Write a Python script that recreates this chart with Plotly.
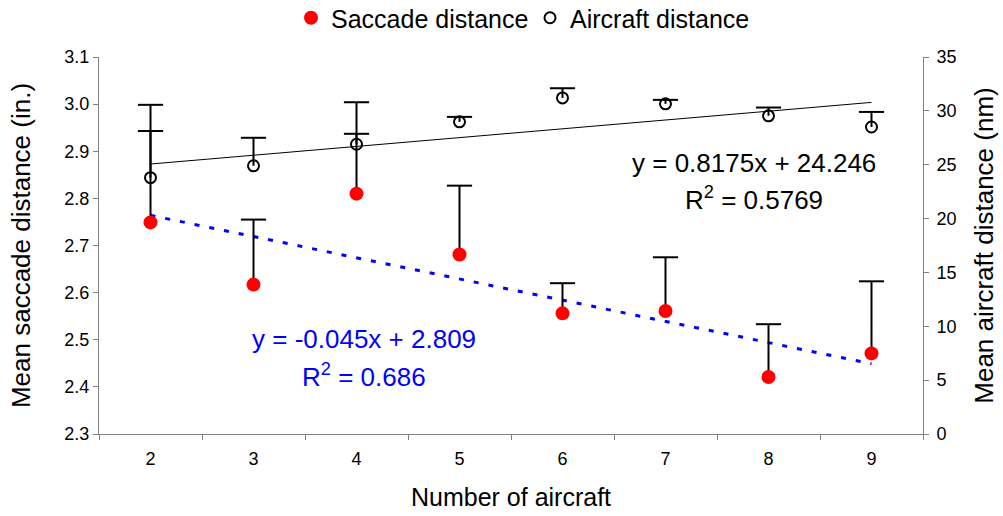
import plotly.graph_objects as go

# ---- data ----
categories = ["2", "3", "4", "5", "6", "7", "8", "9"]
saccade_mean = [2.749, 2.617, 2.810, 2.681, 2.556, 2.561, 2.421, 2.471]
saccade_err_plus = [0.194, 0.138, 0.127, 0.146, 0.064, 0.114, 0.112, 0.153]
aircraft_mean = [23.8, 24.9, 26.9, 28.98, 31.2, 30.65, 29.54, 28.5]
aircraft_err_plus = [6.76, 2.6, 3.9, 0.46, 0.9, 0.37, 0.77, 1.4]

# trendline coefficients as displayed on the chart (x = 1..8)
saccade_trend = {"slope": -0.045, "intercept": 2.809}
aircraft_trend = {"slope": 0.8175, "intercept": 24.246}

left_ticks = [2.3, 2.4, 2.5, 2.6, 2.7, 2.8, 2.9, 3.0, 3.1]
right_ticks = [0, 5, 10, 15, 20, 25, 30, 35]

FONT = "Liberation Sans, Arial, sans-serif"

idx = list(range(1, len(categories) + 1))
sacc_fit = [saccade_trend["slope"] * i + saccade_trend["intercept"] for i in idx]
air_fit = [aircraft_trend["slope"] * i + aircraft_trend["intercept"] for i in idx]


def plus_error_traces(means, plus, yaxis):
    """Upward-only error bars: vertical stems plus a cap at the top."""
    xs, ys = [], []
    tops = [m + p for m, p in zip(means, plus)]
    for c, m, t in zip(categories, means, tops):
        xs += [c, c, None]
        ys += [m, t, None]
    stems = go.Scatter(x=xs, y=ys, mode="lines", yaxis=yaxis,
                       line=dict(color="black", width=2),
                       showlegend=False, hoverinfo="skip", connectgaps=False)
    caps = go.Scatter(x=categories, y=tops, mode="markers", yaxis=yaxis,
                      marker=dict(symbol="line-ew", size=18, color="black",
                                  line=dict(width=2, color="black")),
                      showlegend=False, hoverinfo="skip")
    return [stems, caps]


fig = go.Figure()

# trendlines
fig.add_trace(go.Scatter(
    x=categories, y=air_fit, mode="lines", yaxis="y2",
    line=dict(color="black", width=1), showlegend=False, hoverinfo="skip"))
fig.add_trace(go.Scatter(
    x=categories, y=sacc_fit, mode="lines", yaxis="y",
    line=dict(color="#0000FF", width=3, dash="5px,10px"),
    showlegend=False, hoverinfo="skip"))

# error bars (plus direction only)
for tr in plus_error_traces(saccade_mean, saccade_err_plus, "y"):
    fig.add_trace(tr)
for tr in plus_error_traces(aircraft_mean, aircraft_err_plus, "y2"):
    fig.add_trace(tr)

# saccade distance
fig.add_trace(go.Scatter(
    x=categories, y=saccade_mean, mode="markers", name="Saccade distance",
    yaxis="y",
    marker=dict(color="#FF0000", size=14, line=dict(width=0))))

# aircraft distance
fig.add_trace(go.Scatter(
    x=categories, y=aircraft_mean, mode="markers", name="Aircraft distance",
    yaxis="y2",
    marker=dict(symbol="circle-open", color="black", size=11,
                line=dict(width=2, color="black"))))

axis_line = "#808080"
fig.update_layout(
    width=1003, height=516,
    margin=dict(l=99, r=80, t=57, b=82, autoexpand=False),
    paper_bgcolor="white", plot_bgcolor="white",
    font=dict(family=FONT, color="black", size=18),
    showlegend=True,
    legend=dict(orientation="h", x=(530 - 99) / 824, xanchor="center",
                y=(434 + 5) / 377, yref="paper", yanchor="top",
                font=dict(size=25), itemwidth=30, entrywidth=194,
                tracegroupgap=0, bgcolor="rgba(0,0,0,0)"),
    xaxis=dict(type="category", range=[-0.5, 7.5], tickson="boundaries",
               ticks="outside", ticklen=5, tickcolor=axis_line,
               showline=True, linecolor=axis_line, linewidth=1,
               showgrid=False, zeroline=False,
               tickfont=dict(size=18), ticklabelstandoff=8,
               title=dict(text="Number of aircraft", font=dict(size=25),
                          standoff=20)),
    yaxis=dict(range=[2.3, 3.1], tickvals=left_ticks, tickformat=".1f",
               ticks="outside", ticklen=5, tickcolor=axis_line,
               showline=True, linecolor=axis_line, linewidth=1,
               showgrid=False, zeroline=False,
               tickfont=dict(size=18),
               title=dict(text="Mean saccade distance (in.)",
                          font=dict(size=26), standoff=26)),
    yaxis2=dict(range=[0, 35], tickvals=right_ticks, overlaying="y",
                side="right", ticks="outside", ticklen=5, tickcolor=axis_line,
                showline=True, linecolor=axis_line, linewidth=1,
                showgrid=False, zeroline=False,
                tickfont=dict(size=18), ticklabelstandoff=4,
                title=dict(text="Mean aircraft distance (nm)",
                           font=dict(size=26), standoff=19)),
)


def px_to_paper(px, py):
    return (px - 99) / 824, (434 - py) / 377


for text, (px, py), color in [
    ("y = 0.8175x + 24.246", (754, 163), "black"),
    ("R<sup>2</sup> = 0.5769", (754, 198), "black"),
    ("y = -0.045x + 2.809", (364, 339), "#0000FF"),
    ("R<sup>2</sup> = 0.686", (364, 375), "#0000FF"),
]:
    ax, ay = px_to_paper(px, py)
    fig.add_annotation(x=ax, y=ay, xref="paper", yref="paper", text=text,
                       showarrow=False, xanchor="center", yanchor="middle",
                       font=dict(size=26, color=color, family=FONT))

fig.write_html("out.html")
